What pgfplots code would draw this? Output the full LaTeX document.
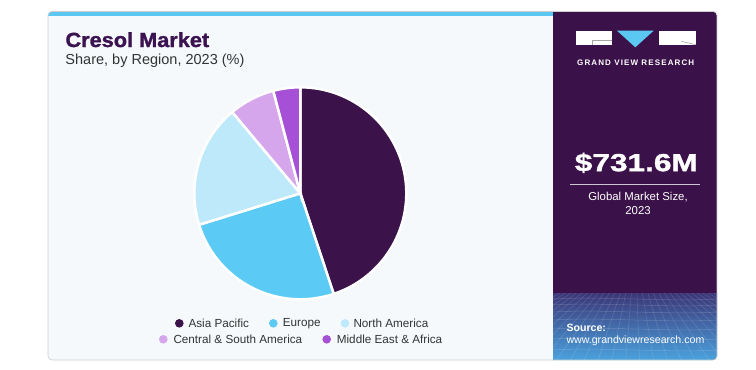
\documentclass[border=0pt]{standalone}
\usepackage{pgfplots}
\pgfplotsset{compat=1.18}
\usepackage{pgfplotstable}
\usepackage{fontspec}
\setmainfont{Liberation Sans}
\usepackage{graphicx}
\definecolor{apcol}{HTML}{3B1249}
\definecolor{eucol}{HTML}{5BCBF5}
\definecolor{nacol}{HTML}{BEE9FA}
\definecolor{csacol}{HTML}{D5A6EC}
\definecolor{meacol}{HTML}{A650D8}
\definecolor{panelbg}{HTML}{F5F9FC}
\definecolor{purp}{HTML}{3A1249}
\definecolor{titlecol}{HTML}{3B1350}
\definecolor{txtcol}{HTML}{333333}
\definecolor{cyanbar}{HTML}{5BC8F2}
\definecolor{gridtop}{HTML}{3C3677}
\definecolor{gridbot}{HTML}{4AA2DE}
\pgfplotstableread{
region value
AsiaPacific 44.9
Europe 25.3
NorthAmerica 18.7
CentralSouthAmerica 7.0
MiddleEastAfrica 4.1
}\piedata
\begin{document}
\begin{tikzpicture}[x=1bp,y=1bp]
\path[use as bounding box, fill=white] (0,0) rectangle (756,369);
% card
\begin{scope}
\clip[rounded corners=4bp] (48,9) rectangle (717,357.5);
\fill[panelbg] (48,9) rectangle (717,357.5);
\fill[cyanbar] (48,353) rectangle (553,357.5);
\fill[purp] (553,9) rectangle (717,357.5);
\shade[top color=gridtop, bottom color=gridbot] (553,9) rectangle (717,76);
\begin{scope}
\clip (553,9) rectangle (717,76);
\foreach \yy in {70,64,57,49,40,30,19} {\draw[white, opacity=0.18, line width=0.5bp] (553,\yy) .. controls (600,\yy+3) and (670,\yy-3) .. (717,\yy);}
\foreach \xx in {430,445,...,850} {\draw[white, opacity=0.15, line width=0.5bp] (635,120) -- (\xx,0);}
\end{scope}
\end{scope}
\draw[black!20, line width=0.6bp, rounded corners=4bp] (48,9) rectangle (717,357.5);
% titles
\node[anchor=west, inner sep=0pt, text=titlecol] at (65.3,329.3) {\scalebox{1.06}[1]{\fontsize{20.5bp}{22bp}\selectfont\bfseries\addfontfeatures{FakeBold=1.3} Cresol Market}};
\node[anchor=west, inner sep=0pt, text=txtcol] at (65.3,308.5) {\fontsize{14.5bp}{16bp}\selectfont Share, by Region, 2023 (\%)};
% angles
\pgfplotstablegetelem{0}{value}\of\piedata \pgfmathsetmacro\angB{90-3.6*\pgfplotsretval}
\pgfplotstablegetelem{1}{value}\of\piedata \pgfmathsetmacro\angC{\angB-3.6*\pgfplotsretval}
\pgfplotstablegetelem{2}{value}\of\piedata \pgfmathsetmacro\angD{\angC-3.6*\pgfplotsretval}
\pgfplotstablegetelem{3}{value}\of\piedata \pgfmathsetmacro\angE{\angD-3.6*\pgfplotsretval}
\pgfplotstablegetelem{4}{value}\of\piedata \pgfmathsetmacro\angF{\angE-3.6*\pgfplotsretval}
\begin{axis}[at={(300.3bp,175.7bp)}, anchor=center, width=212bp, height=212bp, scale only axis,
  xmin=-1, xmax=1, ymin=-1, ymax=1, hide axis, clip=false]
\addplot[fill=apcol, draw=white, line width=2.5bp, domain=\angB:90, samples=90] ({cos(x)},{sin(x)}) -- (0,0) -- cycle;
\addplot[fill=eucol, draw=white, line width=2.5bp, domain=\angC:\angB, samples=60] ({cos(x)},{sin(x)}) -- (0,0) -- cycle;
\addplot[fill=nacol, draw=white, line width=2.5bp, domain=\angD:\angC, samples=50] ({cos(x)},{sin(x)}) -- (0,0) -- cycle;
\addplot[fill=csacol, draw=white, line width=2.5bp, domain=\angE:\angD, samples=20] ({cos(x)},{sin(x)}) -- (0,0) -- cycle;
\addplot[fill=meacol, draw=white, line width=2.5bp, domain=\angF:\angE, samples=12] ({cos(x)},{sin(x)}) -- (0,0) -- cycle;
\end{axis}
% legend
\begin{scope}[every node/.style={anchor=west, inner sep=0pt, text=txtcol, font=\fontsize{11.7bp}{13bp}\selectfont}]
\fill[apcol] (179.3,45.7) circle (4.3);
\node at (188.3,45.7) {Asia Pacific};
\fill[eucol] (273.3,45.7) circle (4.3);
\node at (282.7,45.7) {Europe};
\fill[nacol] (345,45.7) circle (4.3);
\node at (353.3,45.7) {North America};
\fill[csacol] (163.3,29.7) circle (4.3);
\node at (173.3,29.7) {Central \& South America};
\fill[meacol] (326.7,29.7) circle (4.3);
\node at (336.7,29.7) {Middle East \& Africa};
\end{scope}
% logo
\fill[white] (575.7,324) rectangle (612.3,338.3);
\draw[gray!70, line width=0.6bp] (612.3,328.3) -- (592.3,328.3) -- (592.3,324);
\fill[cyanbar] (617,338.3) -- (653.7,338.3) -- (635.3,321.7) -- cycle;
\fill[white] (659,324) rectangle (695.7,338.3);
\draw[gray!70, line width=0.6bp] (681.3,327.7) -- (695.7,324.3);
\node[text=white, inner sep=0pt] at (635.7,306.7) {\fontsize{8bp}{9bp}\selectfont\addfontfeatures{LetterSpace=14}\bfseries GRAND VIEW RESEARCH};
% market size
\node[text=white, inner sep=0pt] at (636.3,206.1) {\scalebox{1.28}[1]{\fontsize{24.7bp}{26bp}\selectfont\bfseries\addfontfeatures{FakeBold=1.2} \$731.6M}};
\draw[white!75!purp, line width=0.7bp] (570.3,185) -- (699.7,185);
\node[text=white, inner sep=0pt] at (638,171.7) {\fontsize{11.4bp}{13bp}\selectfont Global Market Size,};
\node[text=white, inner sep=0pt] at (638,158) {\fontsize{11.4bp}{13bp}\selectfont 2023};
% source
\node[anchor=west, text=white, inner sep=0pt] at (566.3,41.3) {\fontsize{10.6bp}{12bp}\selectfont\bfseries Source:};
\node[anchor=west, text=white, inner sep=0pt] at (566.3,28) {\fontsize{10.6bp}{12bp}\selectfont www.grandviewresearch.com};
\end{tikzpicture}
\end{document}
